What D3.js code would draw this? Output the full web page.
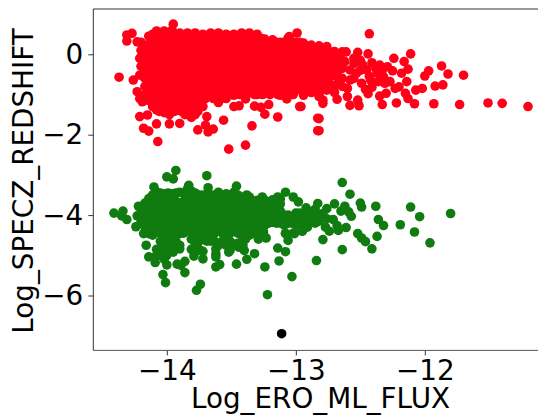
<!DOCTYPE html>
<html>
<head>
<meta charset="utf-8">
<script src="https://cdn.jsdelivr.net/npm/d3@7"></script>
<style>
    html, body { margin: 0; padding: 0; background: #fff; overflow: hidden; }
    text { font-family: "DejaVu Sans", sans-serif; fill: #000; }
</style>
</head>
<body>
<svg id="chart" width="538" height="417"></svg>
<script>
const xTicks = [-14, -13, -12];
const yTicks = [0, -2, -4, -6];

// dense part of each cloud, read column by column: [x, [y, y, ...]]
const redColumns = [
    [-14.2, [0.3, 0.1, -0.1, -0.3]],
    [-14.17, [0.2, 0, -0.2, -0.4, -0.6, -0.8, -1]],
    [-14.14, [0.45, 0.25, 0.05, -0.15, -0.35, -0.55, -0.75, -0.95, -1.15]],
    [-14.11, [0.5, 0.3, 0.1, -0.1, -0.3, -0.5, -0.7, -0.9, -1.1, -1.3]],
    [-14.08, [0.58, 0.4, 0.2, 0, -0.2, -0.4, -0.6, -0.8, -1, -1.2, -1.38]],
    [-14.05, [0.5, 0.3, 0.1, -0.1, -0.3, -0.5, -0.7, -0.9, -1.1, -1.3]],
    [-14.02, [0.58, 0.35, 0.15, -0.05, -0.25, -0.45, -0.65, -0.85, -1.05, -1.25, -1.45]],
    [-13.99, [0.5, 0.3, 0.1, -0.1, -0.3, -0.5, -0.7, -0.9, -1.1, -1.35]],
    [-13.96, [0.6, 0.4, 0.2, 0, -0.2, -0.4, -0.6, -0.8, -1, -1.2, -1.42]],
    [-13.93, [0.5, 0.3, 0.1, -0.1, -0.3, -0.5, -0.7, -0.9, -1.1, -1.3]],
    [-13.9, [0.53, 0.35, 0.15, -0.05, -0.25, -0.45, -0.65, -0.85, -1.05, -1.25, -1.4]],
    [-13.87, [0.45, 0.25, 0.05, -0.1, -0.3, -0.5, -0.7, -0.9, -1.1, -1.3]],
    [-13.84, [0.53, 0.4, 0.2, 0, -0.2, -0.4, -0.6, -0.8, -1, -1.2]],
    [-13.81, [0.45, 0.25, 0.05, -0.1, -0.3, -0.5, -0.7, -0.9, -1.1]],
    [-13.78, [0.53, 0.35, 0.15, -0.05, -0.25, -0.45, -0.65, -0.85, -1.05, -1.25]],
    [-13.75, [0.45, 0.25, 0.05, -0.15, -0.35, -0.55, -0.75, -0.95, -1.2]],
    [-13.72, [0.5, 0.3, 0.1, -0.1, -0.3, -0.5, -0.7, -0.9, -1.1, -1.3]],
    [-13.69, [0.45, 0.25, 0.05, -0.15, -0.35, -0.55, -0.75, -0.95]],
    [-13.66, [0.53, 0.35, 0.15, -0.05, -0.25, -0.45, -0.65, -0.85, -1.02]],
    [-13.63, [0.45, 0.25, 0.05, -0.15, -0.35, -0.55, -0.75, -0.95]],
    [-13.6, [0.53, 0.3, 0.1, -0.1, -0.3, -0.5, -0.7, -0.9, -1.2]],
    [-13.57, [0.45, 0.25, 0.05, -0.15, -0.35, -0.55, -0.75, -0.9]],
    [-13.54, [0.5, 0.35, 0.15, -0.05, -0.25, -0.45, -0.65, -0.85, -1.05]],
    [-13.51, [0.45, 0.25, 0.05, -0.15, -0.35, -0.55, -0.75, -0.9]],
    [-13.48, [0.5, 0.3, 0.1, -0.1, -0.3, -0.5, -0.7, -0.85, -1.02]],
    [-13.45, [0.45, 0.25, 0.05, -0.15, -0.35, -0.55, -0.75, -0.9]],
    [-13.42, [0.53, 0.35, 0.15, -0.05, -0.25, -0.45, -0.65, -0.85]],
    [-13.39, [0.45, 0.25, 0.05, -0.15, -0.35, -0.55, -0.75, -0.85]],
    [-13.36, [0.53, 0.3, 0.1, -0.1, -0.3, -0.5, -0.7, -0.88]],
    [-13.33, [0.45, 0.25, 0.05, -0.15, -0.35, -0.55, -0.75, -0.85]],
    [-13.3, [0.5, 0.35, 0.15, -0.05, -0.25, -0.45, -0.65, -0.85, -1]],
    [-13.27, [0.4, 0.25, 0.05, -0.15, -0.35, -0.55, -0.75, -0.85]],
    [-13.24, [0.38, 0.2, 0, -0.2, -0.4, -0.6, -0.8, -0.98]],
    [-13.21, [0.3, 0.1, -0.1, -0.3, -0.5, -0.7, -0.9]],
    [-13.18, [0.36, 0.25, 0.05, -0.15, -0.35, -0.55, -0.75, -0.92]],
    [-13.15, [0.3, 0.1, -0.1, -0.3, -0.5, -0.7, -0.85]],
    [-13.12, [0.3, 0.1, -0.1, -0.3, -0.5, -0.7, -0.9, -1.02]],
    [-13.09, [0.3, 0.15, -0.05, -0.25, -0.45, -0.65, -0.85]],
    [-13.06, [0.4, 0.25, 0.05, -0.15, -0.35, -0.55, -0.75, -0.95]],
    [-13.03, [0.3, 0.15, -0.05, -0.25, -0.45, -0.65, -0.85]],
    [-13, [0.3, 0.1, -0.1, -0.3, -0.5, -0.7, -0.9]],
    [-12.97, [0.3, 0.15, -0.05, -0.25, -0.45, -0.65, -0.85]],
    [-12.94, [0.28, 0.1, -0.1, -0.3, -0.5, -0.7, -0.92, -1.02]],
    [-12.91, [0.2, 0, -0.2, -0.4, -0.6, -0.8]],
    [-12.88, [0.23, 0.05, -0.15, -0.35, -0.55, -0.75, -0.95]],
    [-12.85, [0.15, -0.05, -0.25, -0.45, -0.65, -0.85]],
    [-12.82, [0.21, 0.02, -0.18, -0.38, -0.58, -0.78, -0.97]],
    [-12.79, [0.15, -0.05, -0.25, -0.45, -0.65, -0.85]],
    [-12.76, [0.19, -0.05, -0.25, -0.45, -0.65, -0.89]],
    [-12.73, [0.05, -0.15, -0.35, -0.55, -0.75]],
    [-12.7, [0.07, -0.12, -0.32, -0.52, -0.8, -0.95]],
    [-12.67, [0, -0.2, -0.4, -0.7]],
    [-12.64, [0.06, -0.15, -0.35, -0.6, -0.8]]
];

const redOutliers = [
    [-14.37, -0.57], [-14.26, -0.64], [-14.23, -0.93], [-14.21, -1.1], [-14.19, -1.18],
    [-14.21, -1.55], [-14.15, -1.51], [-14.18, -1.84], [-14.14, -1.91], [-14.08, -1.73],
    [-14.07, -2.17], [-13.98, -1.73], [-13.9, -1.72], [-13.81, -1.57], [-13.76, -1.88],
    [-13.7, -1.76], [-13.69, -1.55], [-13.64, -1.86], [-13.68, -1.93], [-13.56, -1.64],
    [-13.52, -2.36], [-13.39, -2.26], [-13.34, -1.78], [-13.48, -1.3], [-13.44, -1.28],
    [-13.39, -1.11], [-13.32, -1.29], [-13.27, -1.32], [-13.24, -1.49], [-13.21, -1.25],
    [-13.14, -1.56], [-13.07, -1.11], [-12.97, -1.3], [-12.83, -1.59], [-12.83, -1.9],
    [-14.31, 0.48], [-14.27, 0.52], [-14.31, 0.33], [-14.23, 0.31], [-12.99, 0.53],
    [-13.95, 0.75], [-13.05, 0.44], [-14.21, -0.1], [-14.21, -0.52],
    [-12.43, 0.51], [-12.52, 0.05], [-12.44, 0.01], [-12.61, 0.06], [-12.24, -0.1],
    [-12.11, 0.01], [-12.16, -0.18], [-11.87, -0.29], [-11.97, -0.41], [-12, -0.54],
    [-11.82, -0.49], [-11.7, -0.52], [-12.13, -0.37], [-12.18, -0.47], [-12.14, -0.68],
    [-11.86, -0.76], [-11.92, -0.79], [-12.02, -0.85], [-12.07, -0.89], [-12.2, -0.81],
    [-12.23, -0.85], [-12.15, -0.97], [-12.13, -1.1], [-12.08, -1.23], [-12.22, -1.21],
    [-12.33, -1.25], [-11.93, -1.23], [-11.73, -1.25], [-11.51, -1.21], [-11.4, -1.22],
    [-11.2, -1.3], [-12.51, -1.28], [-12.52, -1.14], [-12.58, -1.27], [-12.6, -1.05],
    [-12.68, -1.12], [-12.79, -1.22], [-12.79, -1.14], [-12.82, -1.05], [-12.82, -1.6],
    [-12.82, -1.9], [-12.35, -1.04], [-12.3, -0.97], [-12.44, -0.98], [-12.96, -1.3],
    [-12.35, -0.27], [-12.29, -0.31], [-12.25, -0.41], [-12.41, -0.21], [-12.48, -0.27],
    [-12.55, -0.23], [-12.58, -0.39], [-12.53, -0.47], [-12.45, -0.39], [-12.37, -0.47],
    [-12.32, -0.56], [-12.27, -0.68], [-12.36, -0.68], [-12.42, -0.64], [-12.49, -0.72],
    [-12.46, -0.87], [-12.41, -0.82], [-12.58, -0.64], [-12.31, -0.72], [-12.62, -0.18],
    [-12.55, -0.1], [-12.5, -0.15], [-12.55, -0.6], [-12.5, -0.4], [-12.6, -0.85],
    [-12.38, -0.35], [-12.33, -0.4], [-12.43, -0.55],
    [-14.1, -1.2], [-14.04, -1.2], [-13.98, -1.2], [-13.92, -1.2], [-13.86, -1.2], [-13.8, -1.2], [-13.74, -1.2],
    [-14.07, -1.32], [-14.01, -1.32], [-13.95, -1.32], [-13.89, -1.32], [-13.83, -1.32], [-13.77, -1.32],
    [-14.06, -1.42], [-14, -1.42], [-13.94, -1.42], [-13.88, -1.42], [-13.82, -1.42], [-13.76, -1.42],
    [-13.98, -1.5], [-13.86, -1.5], [-13.78, -1.5],
    [-13.7, -1.1], [-13.64, -1.1], [-13.58, -1.1], [-13.54, -1.1],
    [-13.5, -1], [-13.44, -1], [-13.38, -1], [-13.32, -1], [-13.26, -1], [-13.2, -1], [-13.14, -1], [-13.08, -1], [-13.02, -1]
];

const greenColumns = [
    [-14.2, [-3.84, -4.0, -4.17]],
    [-14.17, [-3.7, -3.9, -4.1, -4.3]],
    [-14.14, [-3.59, -3.75, -3.95, -4.15, -4.35, -4.46]],
    [-14.11, [-3.5, -3.7, -3.9, -4.1, -4.3, -4.5]],
    [-14.08, [-3.42, -3.6, -3.8, -4, -4.2, -4.4, -4.85, -5]],
    [-14.05, [-3.45, -3.65, -3.85, -4.05, -4.25, -4.45, -4.65, -4.85]],
    [-14.02, [-3.47, -3.7, -3.9, -4.1, -4.3, -4.5, -4.7, -4.9, -5.1]],
    [-13.99, [-3.45, -3.65, -3.85, -4.05, -4.25, -4.45, -4.65, -4.85]],
    [-13.96, [-3.47, -3.6, -3.8, -4, -4.2, -4.4, -4.6, -4.75]],
    [-13.93, [-3.45, -3.65, -3.85, -4.05, -4.25, -4.45, -4.65]],
    [-13.9, [-3.43, -3.7, -3.9, -4.1, -4.3, -4.46, -4.75]],
    [-13.87, [-3.45, -3.65, -3.85, -4.05, -4.25, -4.45]],
    [-13.84, [-3.35, -3.6, -3.8, -4, -4.2, -4.4]],
    [-13.81, [-3.4, -3.6, -3.8, -4, -4.2, -4.4, -4.6, -4.85]],
    [-13.78, [-3.45, -3.7, -3.9, -4.1, -4.3, -4.5, -4.7, -4.9]],
    [-13.75, [-3.5, -3.65, -3.85, -4.05, -4.25, -4.45, -4.65, -4.85]],
    [-13.72, [-3.5, -3.6, -3.8, -4, -4.2, -4.4, -4.6, -4.9]],
    [-13.69, [-3.5, -3.65, -3.85, -4.05, -4.25, -4.45, -4.65]],
    [-13.66, [-3.5, -3.7, -3.9, -4.1, -4.3, -4.5, -4.65]],
    [-13.63, [-3.5, -3.65, -3.85, -4.05, -4.25, -4.45, -4.65]],
    [-13.6, [-3.43, -3.6, -3.8, -4, -4.2, -4.4, -4.75]],
    [-13.57, [-3.5, -3.65, -3.85, -4.05, -4.25, -4.45, -4.65]],
    [-13.54, [-3.47, -3.7, -3.9, -4.1, -4.3, -4.5, -4.75]],
    [-13.51, [-3.5, -3.65, -3.85, -4.05, -4.25, -4.45, -4.65]],
    [-13.48, [-3.43, -3.6, -3.8, -4, -4.2, -4.4, -4.75]],
    [-13.45, [-3.5, -3.65, -3.85, -4.05, -4.25, -4.45, -4.7]],
    [-13.42, [-3.55, -3.7, -3.9, -4.1, -4.3, -4.5, -4.75]],
    [-13.39, [-3.6, -3.8, -4, -4.2, -4.4, -4.6]],
    [-13.36, [-3.55, -3.75, -3.95, -4.15, -4.35, -4.5]],
    [-13.33, [-3.65, -3.85, -4.05, -4.25, -4.45]],
    [-13.3, [-3.63, -3.8, -4, -4.2, -4.35]],
    [-13.27, [-3.7, -3.9, -4.1, -4.3]],
    [-13.24, [-3.63, -3.85, -4.05, -4.25]],
    [-13.21, [-3.7, -3.9, -4.1, -4.2]],
    [-13.18, [-3.63, -3.8, -4, -4.18]],
    [-13.15, [-3.7, -3.9, -4.1, -4.2]],
    [-13.12, [-3.6, -3.9, -4.05, -4.2]],
    [-13.09, [-4, -4.1, -4.25]],
    [-13.06, [-4, -4.2]],
    [-13.03, [-4.05, -4.2]],
    [-13, [-3.95, -4.15, -4.25]],
    [-12.97, [-3.95, -4.1, -4.25]],
    [-12.94, [-4.0, -4.2]],
    [-12.91, [-3.95, -4.15, -4.3]],
    [-12.88, [-3.95, -4.15]],
    [-12.85, [-3.85, -4.05, -4.2]],
    [-12.82, [-4.0, -4.15]]
];

const greenOutliers = [
    [-14.41, -3.95], [-14.34, -3.9], [-14.35, -4.02], [-14.31, -4.11], [-14.24, -4.29],
    [-14.22, -3.78], [-14.23, -4.02], [-14.18, -4.46], [-14.16, -4.75], [-14.14, -5.04],
    [-14.09, -5.18], [-14, -5.24], [-14.03, -5.48], [-14.01, -5.68], [-13.93, -2.89],
    [-14, -3.05], [-13.95, -3.1], [-13.69, -3.02], [-14.1, -3.3], [-13.68, -3.32],
    [-13.46, -3.28], [-13.83, -3.26], [-13.92, -5.22], [-13.86, -5.15], [-13.89, -5.25],
    [-13.86, -5.43], [-13.74, -5.72], [-13.77, -5.87], [-13.72, -5.09], [-13.79, -5.02],
    [-13.62, -5.29], [-13.59, -5.23], [-13.62, -5.04], [-13.46, -5.22], [-13.38, -5.1],
    [-13.32, -4.96], [-13.24, -5.29], [-13.14, -4.82], [-13.08, -4.91], [-13.13, -5.14],
    [-13.03, -5.53], [-13.22, -5.98], [-12.84, -5.13], [-13.06, -4.63], [-13.23, -4.57],
    [-13.29, -4.6], [-13.52, -4.92], [-13.4, -4.88], [-13.08, -4.46], [-13.01, -4.46],
    [-12.95, -4.4], [-13.08, -3.43], [-13.02, -3.55], [-12.98, -3.67], [-12.92, -3.82],
    [-13.14, -3.55], [-13.18, -3.62], [-13.26, -3.55], [-13.38, -3.5], [-13.12, -3.72],
    [-12.64, -3.19], [-12.58, -3.48], [-12.83, -3.71], [-12.7, -3.72], [-12.62, -3.78],
    [-12.5, -3.7], [-12.49, -3.8], [-12.38, -3.78], [-12.11, -3.8], [-12.04, -4.04],
    [-11.8, -3.96], [-12.76, -3.84], [-12.65, -3.9], [-12.59, -3.92], [-12.57, -4.03],
    [-12.36, -4.11], [-12.32, -4.26], [-12.19, -4.24], [-12.08, -4.42], [-11.96, -4.69],
    [-12.37, -4.53], [-12.52, -4.46], [-12.49, -4.57], [-12.46, -4.66], [-12.41, -4.84],
    [-12.64, -4.86], [-12.61, -4.31], [-12.67, -4.38], [-12.68, -4.26], [-12.74, -4.4],
    [-12.77, -4.3], [-12.71, -4.11], [-12.76, -4.09], [-12.81, -4.09], [-12.86, -3.96],
    [-12.79, -3.96], [-12.79, -4.61], [-12.95, -4.4], [-13.02, -4.45], [-13.08, -4.45],
    [-14.05, -5], [-14, -5], [-13.95, -4.92], [-13.9, -4.84], [-13.79, -4.92],
    [-13.74, -4.88], [-13.62, -4.84], [-13.62, -4.96], [-13.51, -4.88], [-13.44, -4.8],
    [-13.41, -4.75], [-13.31, -4.46], [-13.25, -4.42]
];

const blackPoints = [[-13.11, -6.95]];

let svg = d3.select("#chart"),
    margin = {top: 9, left: 93.3, bottom: 350.4};

let x = d3.scaleLinear()
    .domain([-14.57, -11])
    .range([margin.left, 553.8]);

let y = d3.scaleLinear()
    .domain([0, -6])
    .range([54.3, 295.5]);

function flatten(columns) {
    let points = [];
    columns.forEach(col => col[1].forEach(v => points.push([col[0], v])));
    return points;
}

const series = [
    {color: "#ff0018", points: flatten(redColumns).concat(redOutliers)},
    {color: "#107c10", points: flatten(greenColumns).concat(greenOutliers)},
    {color: "#000000", points: blackPoints}
];

svg.selectAll("g.serie")
    .data(series)
    .enter().append("g")
    .attr("class", "serie")
    .attr("fill", d => d.color)
    .selectAll("circle")
    .data(d => d.points)
    .enter().append("circle")
    .attr("cx", d => x(d[0]))
    .attr("cy", d => y(d[1]))
    .attr("r", 4.8);

const fmt = d => d < 0 ? "\u2212" + Math.abs(d) : "" + d;

let xAxis = svg.append("g")
    .attr("transform", "translate(0," + margin.bottom + ")")
    .call(d3.axisBottom(x).tickValues(xTicks).tickFormat(fmt).tickSize(5).tickPadding(5));

let yAxis = svg.append("g")
    .attr("transform", "translate(" + margin.left + ",0)")
    .call(d3.axisLeft(y).tickValues(yTicks).tickFormat(fmt).tickSize(5).tickPadding(5));

[xAxis, yAxis].forEach(axis => {
    axis.select(".domain").remove();
    axis.selectAll("line").attr("stroke", "#333");
    axis.selectAll("text").style("font-size", "27.8px").style("font-family", "'DejaVu Sans'");
});

// spines
svg.append("path")
    .attr("d", "M" + margin.left + "," + margin.bottom + "V" + margin.top + "H538")
    .attr("fill", "none").attr("stroke", "#333").attr("stroke-width", 1);
svg.append("line")
    .attr("x1", margin.left).attr("x2", 538)
    .attr("y1", margin.bottom).attr("y2", margin.bottom)
    .attr("stroke", "#555").attr("stroke-width", 1);

svg.append("text")
    .attr("x", 320.5).attr("y", 408)
    .attr("text-anchor", "middle")
    .style("font-size", "27.8px")
    .text("Log_ERO_ML_FLUX");

svg.append("text")
    .attr("transform", "translate(33,181) rotate(-90)")
    .attr("text-anchor", "middle")
    .style("font-size", "27.8px")
    .text("Log_SPECZ_REDSHIFT");
</script>
</body>
</html>
